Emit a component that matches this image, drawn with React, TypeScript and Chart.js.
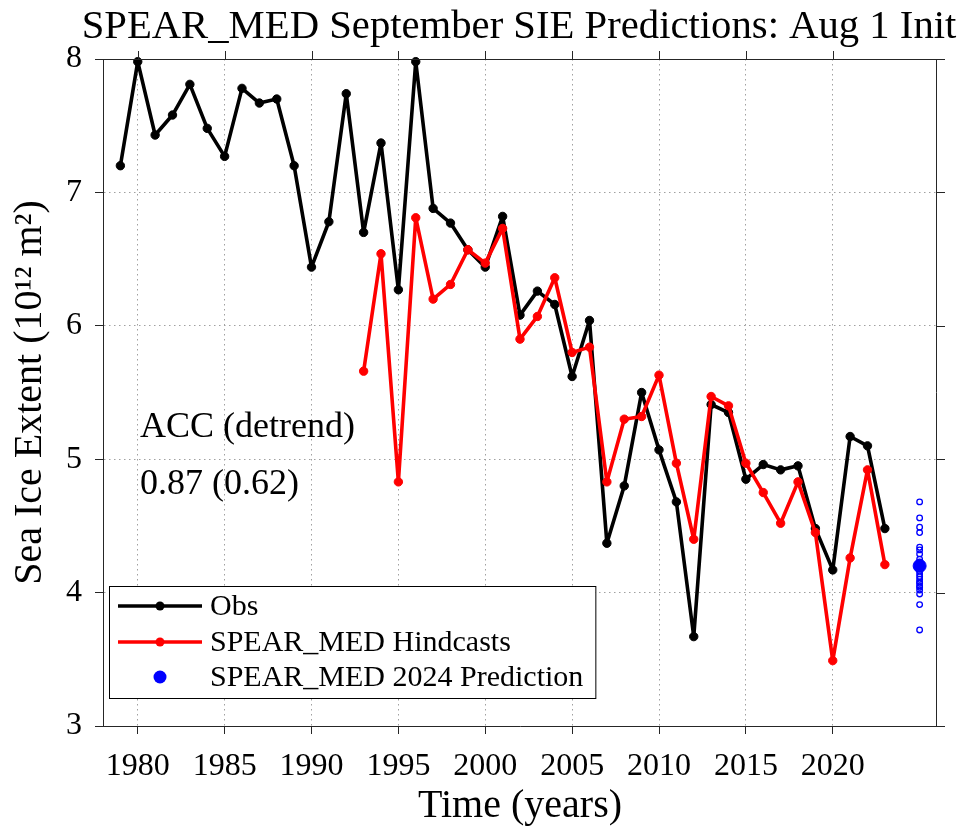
import React, { useEffect, useRef } from "react";
import { Chart, registerables } from "chart.js";

Chart.register(...registerables);

const FONT = "'Liberation Serif', 'Times New Roman', serif";

const obsYears = [
  1979, 1980, 1981, 1982, 1983, 1984, 1985, 1986, 1987, 1988,
  1989, 1990, 1991, 1992, 1993, 1994, 1995, 1996, 1997, 1998,
  1999, 2000, 2001, 2002, 2003, 2004, 2005, 2006, 2007, 2008,
  2009, 2010, 2011, 2012, 2013, 2014, 2015, 2016, 2017, 2018,
  2019, 2020, 2021, 2022, 2023,
];
const obsValues = [
  7.2, 7.98, 7.43, 7.58, 7.81, 7.48, 7.27, 7.78, 7.67, 7.7,
  7.2, 6.44, 6.78, 7.74, 6.7, 7.37, 6.27, 7.98, 6.88, 6.77,
  6.57, 6.44, 6.82, 6.08, 6.26, 6.16, 5.62, 6.04, 4.37, 4.8,
  5.5, 5.07, 4.68, 3.67, 5.41, 5.35, 4.85, 4.96, 4.92, 4.95,
  4.48, 4.17, 5.17, 5.1, 4.48,
];
const hindYears = [
  1993, 1994, 1995, 1996, 1997, 1998, 1999, 2000, 2001, 2002,
  2003, 2004, 2005, 2006, 2007, 2008, 2009, 2010, 2011, 2012,
  2013, 2014, 2015, 2016, 2017, 2018, 2019, 2020, 2021, 2022,
  2023,
];
const hindValues = [
  5.66, 6.54, 4.83, 6.81, 6.2, 6.31, 6.57, 6.47, 6.73, 5.9,
  6.07, 6.36, 5.8, 5.84, 4.83, 5.3, 5.32, 5.63, 4.97, 4.4,
  5.47, 5.4, 4.97, 4.75, 4.52, 4.83, 4.45, 3.49, 4.26, 4.92,
  4.21,
];
const predYear = 2025;
const ensembleValues = [
  4.68, 4.56, 4.49, 4.45, 4.34, 4.32, 4.29, 4.25, 4.23, 4.21,
  4.19, 4.18, 4.16, 4.14, 4.12, 4.1, 4.08, 4.07, 4.05, 4.04,
  4.02, 3.99, 3.91, 3.72,
];
const predMean = 4.2;
const xTickValues = [1980, 1985, 1990, 1995, 2000, 2005, 2010, 2015, 2020];
const yTickValues = [3, 4, 5, 6, 7, 8];

const titleText = "SPEAR_MED September SIE Predictions: Aug 1 Init";
const accLines = ["ACC (detrend)", "0.87 (0.62)"];
const labels = {
  obs: "Obs",
  hind: "SPEAR_MED Hindcasts",
  pred: "SPEAR_MED 2024 Prediction",
};

const AXIS_COLOR = "#262626";
const TICK_LEN = 8;

const overlayPlugin = {
  id: "overlay",
  afterDraw(chart: any) {
    const { ctx, chartArea, scales } = chart;
    const { left, right, top, bottom } = chartArea;
    ctx.save();
    ctx.strokeStyle = AXIS_COLOR;
    ctx.lineWidth = 1;
    ctx.setLineDash([]);
    ctx.beginPath();
    ctx.moveTo(left, top + 0.5);
    ctx.lineTo(right, top + 0.5);
    ctx.moveTo(right - 0.5, top);
    ctx.lineTo(right - 0.5, bottom);
    for (const v of xTickValues) {
      const px = Math.round(scales.x.getPixelForValue(v)) + 0.5;
      ctx.moveTo(px, top);
      ctx.lineTo(px, top - TICK_LEN);
    }
    for (const v of yTickValues) {
      const py = Math.round(scales.y.getPixelForValue(v)) + 0.5;
      ctx.moveTo(right, py);
      ctx.lineTo(right + TICK_LEN, py);
    }
    ctx.stroke();

    // title
    ctx.fillStyle = "#000";
    ctx.font = `40.7px ${FONT}`;
    ctx.textAlign = "center";
    ctx.textBaseline = "alphabetic";
    ctx.fillText(titleText, (left + right) / 2 - 1, 38);

    // ACC text
    ctx.font = `36px ${FONT}`;
    ctx.textAlign = "left";
    const ax = scales.x.getPixelForValue(1978) + 37;
    ctx.fillText(accLines[0], ax, 437);
    ctx.fillText(accLines[1], ax, 494);

    // legend
    const lx = left + 6;
    const ly = 586;
    ctx.font = `30px ${FONT}`;
    const ds = chart.data.datasets;
    const entries = [ds[0], ds[1], ds[3]];
    const textX = lx + 101;
    let maxW = 0;
    for (const e of entries) maxW = Math.max(maxW, ctx.measureText(e.label).width);
    const boxW = textX + maxW + 12 - lx;
    const boxH = 112;
    ctx.fillStyle = "#fff";
    ctx.fillRect(lx, ly, boxW, boxH);
    ctx.strokeStyle = "#000";
    ctx.lineWidth = 1;
    ctx.strokeRect(lx + 0.5, ly + 0.5, boxW, boxH);
    const rowY = [ly + 20, ly + 56, ly + 91];
    entries.forEach((e: any, i: number) => {
      const y = rowY[i];
      const mx = lx + 51;
      if (e.showLine !== false) {
        ctx.strokeStyle = e.borderColor;
        ctx.lineWidth = e.borderWidth;
        ctx.beginPath();
        ctx.moveTo(lx + 9, y);
        ctx.lineTo(lx + 93, y);
        ctx.stroke();
      }
      ctx.fillStyle = e.pointBackgroundColor;
      ctx.beginPath();
      ctx.arc(mx, y, e.showLine !== false ? 4.5 : 6.5, 0, Math.PI * 2);
      ctx.fill();
      ctx.fillStyle = "#000";
      ctx.textBaseline = "middle";
      ctx.fillText(e.label, textX, y + 1);
    });
    ctx.restore();
  },
};

export default function App() {
  const ref = useRef<HTMLCanvasElement | null>(null);
  useEffect(() => {
    document.body.style.margin = "0";
    const canvas = ref.current!;
    const lineDs = (label: string, xs: number[], ys: number[], color: string, order: number) => ({
      label,
      data: xs.map((x, i) => ({ x, y: ys[i] })),
      showLine: true,
      borderColor: color,
      backgroundColor: color,
      pointBackgroundColor: color,
      pointBorderColor: color,
      borderWidth: 3.6,
      borderJoinStyle: "round",
      borderCapStyle: "round",
      pointRadius: 4.2,
      pointBorderWidth: 1,
      order,
      clip: 10,
    });
    const chart = new Chart(canvas, {
      type: "scatter",
      data: {
        datasets: [
          lineDs(labels.obs, obsYears, obsValues, "#000000", 3),
          lineDs(labels.hind, hindYears, hindValues, "#ff0000", 2),
          {
            label: "ensemble",
            data: ensembleValues.map((y) => ({ x: predYear, y })),
            showLine: false,
            borderColor: "#0000ff",
            backgroundColor: "rgba(0,0,0,0)",
            pointBackgroundColor: "rgba(0,0,0,0)",
            pointBorderColor: "#0000ff",
            pointRadius: 2.8,
            pointBorderWidth: 1.3,
            order: 1,
            clip: 10,
          },
          {
            label: labels.pred,
            data: [{ x: predYear, y: predMean }],
            showLine: false,
            borderColor: "#0000ff",
            backgroundColor: "#0000ff",
            pointBackgroundColor: "#0000ff",
            pointBorderColor: "#0000ff",
            pointRadius: 6.5,
            pointBorderWidth: 1,
            order: 0,
            clip: 10,
          },
        ],
      },
      options: {
        responsive: false,
        animation: false,
        layout: { padding: { left: 0, right: 27, top: 59, bottom: 0 } },
        plugins: {
          legend: { display: false },
          tooltip: { enabled: false },
          title: { display: false },
        },
        scales: {
          x: {
            type: "linear",
            min: 1978,
            max: 2026,
            afterFit: (s: any) => {
              s.height = 106;
            },
            afterBuildTicks: (s: any) => {
              s.ticks = xTickValues.map((value) => ({ value }));
            },
            ticks: {
              font: { family: FONT, size: 32 },
              color: "#000",
              padding: 13,
              maxRotation: 0,
              autoSkip: false,
              callback: (v: any) => String(v),
            },
            grid: {
              color: "#a0a0a0",
              lineWidth: 1,
              drawTicks: true,
              tickLength: TICK_LEN,
              tickColor: AXIS_COLOR,
              tickBorderDash: [],
              tickWidth: 1,
            },
            border: { display: true, color: AXIS_COLOR, width: 1, dash: [1.5, 3.5] },
            title: {
              display: true,
              text: "Time (years)",
              font: { family: FONT, size: 40, lineHeight: 1 },
              color: "#000",
              padding: { top: 0, bottom: 6 },
            },
          },
          y: {
            type: "linear",
            min: 3,
            max: 8,
            afterFit: (s: any) => {
              s.width = 103;
            },
            afterBuildTicks: (s: any) => {
              s.ticks = yTickValues.map((value) => ({ value }));
            },
            ticks: {
              font: { family: FONT, size: 32 },
              color: "#000",
              padding: 13,
              callback: (v: any) => String(v),
            },
            grid: {
              color: "#a0a0a0",
              lineWidth: 1,
              drawTicks: true,
              tickLength: TICK_LEN,
              tickColor: AXIS_COLOR,
              tickBorderDash: [],
              tickWidth: 1,
            },
            border: { display: true, color: AXIS_COLOR, width: 1, dash: [1.5, 3.5] },
            title: {
              display: true,
              text: "Sea Ice Extent (10¹² m²)",
              font: { family: FONT, size: 40, lineHeight: 1 },
              color: "#000",
              padding: { top: 10, bottom: 0 },
            },
          },
        },
      },
      plugins: [overlayPlugin],
    } as any);
    return () => chart.destroy();
  }, []);
  return (
    <div style={{ width: 964, height: 832 }}>
      <canvas ref={ref} width={964} height={832} style={{ width: 964, height: 832, display: "block" }} />
    </div>
  );
}
